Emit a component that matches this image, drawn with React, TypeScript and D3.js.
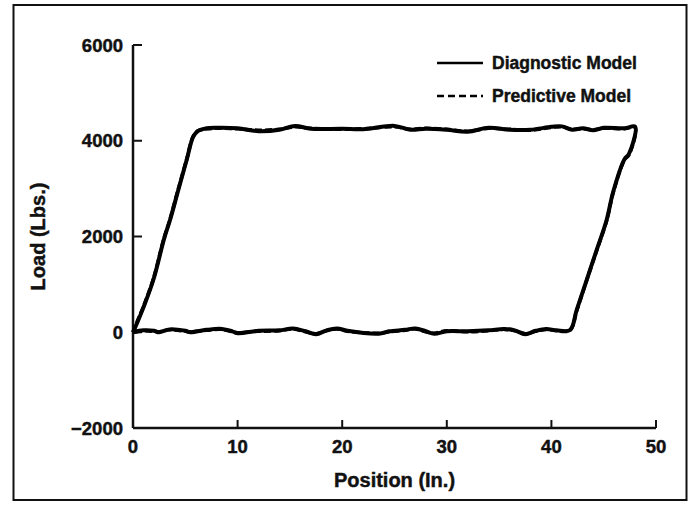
import React from "react";
import * as d3 from "d3";

// Diagnostic model (solid) loop: loading branch, top plateau, unloading branch, bottom plateau
const diagX = [0, 0.4, 1.0, 1.94, 2.97, 3.54, 4.33, 5.13, 5.76, 6.2, 7.05, 8, 10, 12, 14, 15.5, 17, 20, 22, 25, 26.5, 28, 30, 32, 34, 36, 38, 40, 41, 42, 43, 44, 45, 47, 48.0,
  47.4, 47.0, 45.91, 45.28, 44.3, 43.37, 42.42, 41.78, 40.5, 39.5, 38.5, 37.5, 36.5, 35.5, 34, 32, 30, 28.8, 28, 27, 26, 24.5, 23.5, 20.5, 19.5, 18.5, 17.5, 16.5, 15.3, 14, 12, 10, 9.5, 8.5, 7, 5.5, 5, 3.5, 2.5, 2, 1, 0];
const diagY = [0, 200, 520, 1091, 1950, 2345, 2971, 3598, 4085, 4200, 4260, 4270, 4260, 4200, 4230, 4310, 4250, 4250, 4240, 4310, 4230, 4250, 4230, 4190, 4270, 4230, 4230, 4290, 4300, 4230, 4260, 4220, 4270, 4260, 4293,
  3720, 3620, 2936, 2345, 1700, 1091, 465, 47, 40, 70, 30, -40, 40, 70, 40, 20, 20, -30, 20, 80, 50, 20, -30, 30, 80, 40, -40, 20, 80, 40, 30, -20, 20, 70, 50, 0, 30, 60, 0, 30, 40, 0];

// Predictive model (dashed), nearly coincident with the diagnostic model
const predX = [0, 0.4, 1.0, 1.94, 2.97, 3.54, 4.33, 5.13, 5.76, 6.2, 7.05, 8, 10, 12, 14, 15.5, 17, 20, 22, 25, 26.5, 28, 30, 32, 34, 36, 38, 40, 41, 42, 43, 44, 45, 47, 48.0,
  47.4, 47.0, 45.91, 45.28, 44.3, 43.37, 42.42, 41.78, 40.5, 39.5, 38.5, 37.5, 36.5, 35.5, 34, 32, 30, 28.8, 28, 27, 26, 24.5, 23.5, 20.5, 19.5, 18.5, 17.5, 16.5, 15.3, 14, 12, 10, 9.5, 8.5, 7, 5.5, 5, 3.5, 2.5, 2, 1, 0];
const predY = [0, 220, 540, 1110, 1970, 2360, 2990, 3610, 4095, 4210, 4250, 4260, 4250, 4220, 4240, 4290, 4260, 4240, 4250, 4290, 4240, 4260, 4240, 4200, 4260, 4240, 4220, 4280, 4290, 4240, 4250, 4230, 4260, 4250, 4280,
  3700, 3610, 2920, 2330, 1690, 1080, 450, 40, 30, 60, 20, -30, 30, 60, 30, 10, 30, -20, 10, 70, 40, 10, -20, 20, 70, 30, -30, 10, 70, 30, 20, -10, 10, 60, 40, 10, 20, 50, 10, 20, 30, 0];

const xTicks = [0, 10, 20, 30, 40, 50];
const yTicks = [-2000, 0, 2000, 4000, 6000];
const legendItems = ["Diagnostic Model", "Predictive Model"];

const FONT = "'Liberation Sans', Arial, Helvetica, sans-serif";

export default function App() {
  const W = 695, H = 507;
  const x = d3.scaleLinear().domain([0, 50]).range([133, 656]);
  const y = d3.scaleLinear().domain([-2000, 6000]).range([428, 45]);
  const line = d3.line<[number, number]>().x(d => x(d[0])).y(d => y(d[1])).curve(d3.curveCatmullRom.alpha(0.5));
  const diag: [number, number][] = diagX.map((v, i) => [v, diagY[i]]);
  const pred: [number, number][] = predX.map((v, i) => [v, predY[i]]);

  const fmt = (v: number) => (v < 0 ? "\u2212" + Math.abs(v) : String(v));
  const textStyle = { stroke: "#111", strokeWidth: 0.45 } as React.CSSProperties;

  return (
    <svg width={W} height={H} style={{ position: "absolute", left: 0, top: 0, background: "#fff" }}>
      <rect x={13.5} y={5} width={673} height={495} fill="none" stroke="#111" strokeWidth={2} />
      {/* axes */}
      <line x1={x(0)} x2={x(0)} y1={y(6000)} y2={y(-2000)} stroke="#111" strokeWidth={2.5} />
      <line x1={x(0)} x2={x(50)} y1={y(-2000)} y2={y(-2000)} stroke="#111" strokeWidth={2.5} />
      {yTicks.map(t => (
        <g key={"y" + t}>
          {t !== -2000 && <line x1={x(0)} x2={x(0) + 9} y1={y(t)} y2={y(t)} stroke="#111" strokeWidth={2} />}
          <text x={123} y={y(t)} dy="0.36em" textAnchor="end" fontFamily={FONT} fontWeight="bold" fontSize={18.5} fill="#111" style={textStyle}>{fmt(t)}</text>
        </g>
      ))}
      {xTicks.map(t => (
        <g key={"x" + t}>
          {t !== 0 && <line x1={x(t)} x2={x(t)} y1={y(-2000)} y2={y(-2000) - 8} stroke="#111" strokeWidth={2} />}
          <text x={x(t)} y={453} textAnchor="middle" fontFamily={FONT} fontWeight="bold" fontSize={18.5} fill="#111" style={textStyle}>{t}</text>
        </g>
      ))}
      <text x={(x(0) + x(50)) / 2} y={487} textAnchor="middle" fontFamily={FONT} fontWeight="bold" fontSize={20} fill="#111" style={textStyle}>Position (In.)</text>
      <text transform={`translate(45,${(y(6000) + y(-2000)) / 2}) rotate(-90)`} textAnchor="middle" fontFamily={FONT} fontWeight="bold" fontSize={20} fill="#111" style={textStyle}>Load (Lbs.)</text>

      {/* data */}
      <path d={line(diag) || ""} fill="none" stroke="#000" strokeWidth={4} strokeLinejoin="round" />
      <path d={line(pred) || ""} fill="none" stroke="#000" strokeWidth={3.5} strokeDasharray="7 3" strokeLinejoin="round" />

      {/* legend */}
      {legendItems.map((name, i) => {
        const ly = 63 + i * 33;
        return (
          <g key={name}>
            <line x1={437} x2={483} y1={ly} y2={ly} stroke="#000" strokeWidth={2.5} strokeDasharray={i === 1 ? "7 4" : undefined} />
            <text x={492} y={ly} dy="0.36em" fontFamily={FONT} fontWeight="bold" fontSize={17.5} fill="#111" style={textStyle}>{name}</text>
          </g>
        );
      })}
    </svg>
  );
}
